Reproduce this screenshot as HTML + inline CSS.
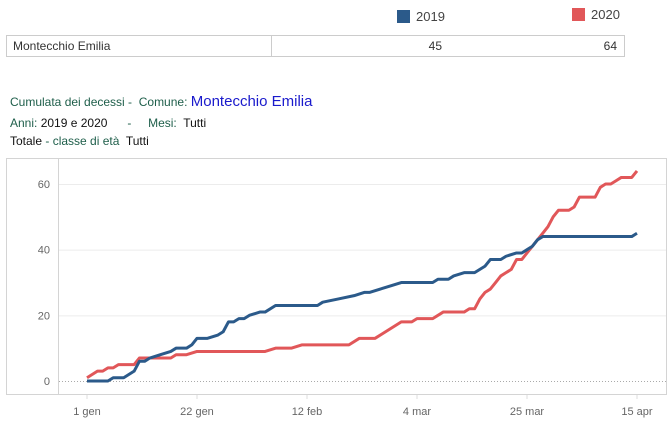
<!DOCTYPE html>
<html><head><meta charset="utf-8">
<style>
body{margin:0;background:#fff;width:670px;height:425px;overflow:hidden;font-family:"Liberation Sans",sans-serif;}
.abs{position:absolute;}
</style></head>
<body>
<div class="abs" style="left:397px;top:10px;width:13px;height:13px;background:#2b5a8a"></div>
<div class="abs" style="left:416px;top:9px;font-size:13px;color:#444">2019</div>
<div class="abs" style="left:572px;top:8px;width:13px;height:13px;background:#e15759"></div>
<div class="abs" style="left:591px;top:7px;font-size:13px;color:#444">2020</div>
<div class="abs" style="left:6px;top:35px;width:617px;height:20px;border:1px solid #ccc;">
  <div class="abs" style="left:6px;top:3px;font-size:12px;color:#333">Montecchio Emilia</div>
  <div class="abs" style="left:264px;top:0;width:1px;height:20px;background:#ccc"></div>
  <div class="abs" style="left:400px;top:3px;width:35px;text-align:right;font-size:12px;color:#333">45</div>
  <div class="abs" style="left:575px;top:3px;width:35px;text-align:right;font-size:12px;color:#333">64</div>
</div>
<div class="abs" style="left:10px;top:93px;font-size:12px;color:#1e5e4a;white-space:nowrap">Cumulata dei decessi -&nbsp; Comune: <span style="color:#1a1acc;font-size:15px">Montecchio Emilia</span></div>
<div class="abs" style="left:10px;top:116px;font-size:12px;color:#1e5e4a;white-space:pre"><span>Anni: </span><span style="color:#111">2019 e 2020</span>      -     Mesi:  <span style="color:#111">Tutti</span></div>
<div class="abs" style="left:10px;top:134px;font-size:12px;color:#1e5e4a;white-space:pre"><span style="color:#111">Totale</span> - classe di età  <span style="color:#111">Tutti</span></div>

<svg class="abs" style="left:0;top:0" width="670" height="425" id="chart">
  <rect x="6.5" y="158.5" width="660" height="236" fill="none" stroke="#d4d4d4"/>
  <line x1="58.5" y1="158" x2="58.5" y2="394" stroke="#d4d4d4"/>
  <g id="grid"></g><g id="lines"></g><g id="ticks"></g>
</svg>
<script>
const days19 = [0,4,5,7,9,10,11,12,14,16,17,19,20,21,23,25,26,27,28,29,30,31,33,34,36,44,45,48,51,53,54,56,58,60,66,67,69,70,72,74,76,77,79,80,82,83,84,85,86,87,104,105];
const vals19 = [0,0,1,1,3,6,6,7,8,9,10,10,11,13,13,14,15,18,18,19,19,20,21,21,23,23,24,25,26,27,27,28,29,30,30,31,31,32,33,33,35,37,37,38,39,39,40,41,43,44,44,45];
const days20 = [0,2,3,4,5,6,7,9,10,11,16,17,19,21,30,34,36,39,41,50,52,55,60,62,63,66,68,72,73,74,75,76,77,78,79,80,81,82,83,84,85,87,88,89,90,92,93,94,97,98,99,100,101,102,104,105];
const vals20 = [1,3,3,4,4,5,5,5,7,7,7,8,8,9,9,9,10,10,11,11,13,13,18,18,19,19,21,21,22,22,25,27,28,30,32,33,34,37,37,39,41,45,47,50,52,52,53,56,56,59,60,60,61,62,62,64];
const yTicks = [0,20,40,60];
const xTickDays = [0,21,42,63,84,105];
const xTickLabels = ["1 gen","22 gen","12 feb","4 mar","25 mar","15 apr"];
const ns="http://www.w3.org/2000/svg";
const xS=d=>87+d*5.238, yS=v=>381-v*3.283;
const grid=document.getElementById('grid'), lines=document.getElementById('lines'), ticks=document.getElementById('ticks');
yTicks.forEach(v=>{
  const l=document.createElementNS(ns,'line');
  
  
  l.setAttribute('x1',59);l.setAttribute('x2',666);l.setAttribute('y1',yS(v)+0.5);l.setAttribute('y2',yS(v)+0.5);
  l.setAttribute('stroke',v===0?'#aaa':'#ececec');
  if(v===0)l.setAttribute('stroke-dasharray','1,2');
  grid.appendChild(l);
  const t=document.createElementNS(ns,'text');
  
  
  t.setAttribute('x',50);t.setAttribute('y',yS(v)+4);t.setAttribute('text-anchor','end');
  t.setAttribute('font-size','11');t.setAttribute('fill','#666');t.setAttribute('font-family','Liberation Sans, sans-serif');
  t.textContent=v;ticks.appendChild(t);
});
xTickDays.forEach((d,i)=>{
  const l=document.createElementNS(ns,'line');
  
  
  l.setAttribute('x1',xS(d));l.setAttribute('x2',xS(d));l.setAttribute('y1',395);l.setAttribute('y2',399);l.setAttribute('stroke','#ddd');
  ticks.appendChild(l);
  const t=document.createElementNS(ns,'text');
  
  
  t.setAttribute('x',xS(d));t.setAttribute('y',415);t.setAttribute('text-anchor','middle');
  t.setAttribute('font-size','11');t.setAttribute('fill','#666');t.setAttribute('font-family','Liberation Sans, sans-serif');
  t.textContent=xTickLabels[i];ticks.appendChild(t);
});
function draw(days,vals,color,name){
  const p=document.createElementNS(ns,'polyline');
  
  
  p.setAttribute('points',days.map((d,i)=>xS(d)+','+yS(vals[i])).join(' '));
  p.setAttribute('fill','none');p.setAttribute('stroke',color);p.setAttribute('stroke-width','3');p.setAttribute('stroke-linejoin','round');
  lines.appendChild(p);
}
draw(days20,vals20,'#e15759','line-2020');
draw(days19,vals19,'#2b5a8a','line-2019');
</script>
</body></html>
